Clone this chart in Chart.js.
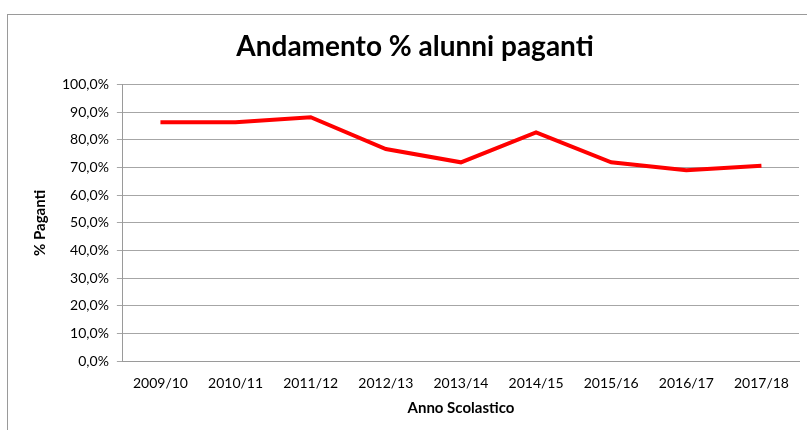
<!DOCTYPE html>
<html>
<head>
<meta charset="utf-8">
<script src="https://cdn.jsdelivr.net/npm/chart.js@4"></script>
<style>
  html, body { margin:0; padding:0; background:#fff; }
  #wrap { position:relative; width:807px; height:430px; }
  #frame { position:absolute; left:7px; top:14px; right:0; bottom:0; border-left:1px solid #9a9a9a; border-top:1px solid #9a9a9a; }
  canvas { position:absolute; left:0; top:0; }
</style>
</head>
<body>
<div id="wrap">
  <div id="frame"></div>
  <canvas id="chart" width="807" height="430"></canvas>
</div>
<script>
const anni = ['2009/10','2010/11','2011/12','2012/13','2013/14','2014/15','2015/16','2016/17','2017/18'];
const paganti = [86.4, 86.4, 88.2, 76.7, 71.9, 82.7, 71.9, 69.0, 70.7];
const yMin = 0, yMax = 100, yStep = 10;

const fontName = 'Lato, "Open Sans", sans-serif';

new Chart(document.getElementById('chart'), {
  type: 'line',
  data: {
    labels: anni,
    datasets: [{
      data: paganti,
      borderColor: '#ff0000',
      borderWidth: 4,
      pointRadius: 0,
      tension: 0,
      fill: false
    }]
  },
  options: {
    responsive: false,
    animation: false,
    layout: { padding: { left: 31, right: 8, top: 10, bottom: 13 } },
    plugins: {
      legend: { display: false },
      tooltip: { enabled: false },
      title: {
        display: true,
        text: 'Andamento % alunni paganti',
        color: '#000',
        font: { family: fontName, size: 28, weight: 'bold' },
        padding: { top: 20, bottom: 21 }
      }
    },
    scales: {
      x: {
        offset: true,
        grid: { display: false, drawTicks: false },
        border: { display: true, color: '#9a9a9a', width: 1 },
        ticks: { color: '#000', font: { family: fontName, size: 14 }, padding: 14, maxRotation: 0 },
        title: {
          display: true,
          text: 'Anno Scolastico',
          color: '#000',
          font: { family: fontName, size: 15, weight: 'bold' },
          padding: { top: -7, bottom: 0 }
        }
      },
      y: {
        min: yMin,
        max: yMax,
        grid: { color: '#a6a6a6', lineWidth: 1, tickLength: 6, drawTicks: true },
        border: { display: true, color: '#9a9a9a', width: 1 },
        ticks: {
          stepSize: yStep,
          color: '#000',
          font: { family: fontName, size: 14 },
          padding: 8,
          callback: v => v.toFixed(1).replace('.', ',') + '%'
        },
        title: {
          display: true,
          text: '% Paganti',
          color: '#000',
          font: { family: fontName, size: 15, weight: 'bold' },
          padding: { top: 0, bottom: 5 }
        }
      }
    }
  }
});
</script>
</body>
</html>
